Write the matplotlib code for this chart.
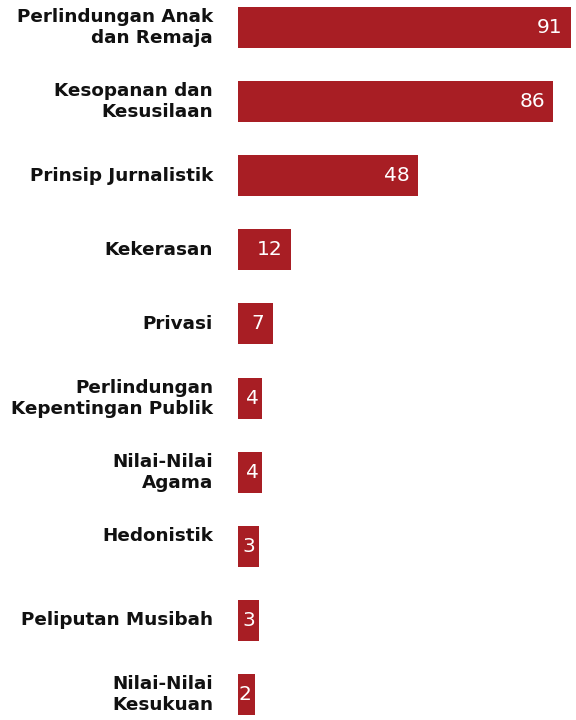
import numpy as np
import matplotlib
matplotlib.use("Agg")
import matplotlib.pyplot as plt

categories = [
    "Perlindungan Anak\ndan Remaja",
    "Kesopanan dan\nKesusilaan",
    "Prinsip Jurnalistik",
    "Kekerasan",
    "Privasi",
    "Perlindungan\nKepentingan Publik",
    "Nilai-Nilai\nAgama",
    "Hedonistik\n",
    "Peliputan Musibah",
    "Nilai-Nilai\nKesukuan",
]
values = [91, 86, 48, 12, 7, 4, 4, 3, 3, 2]

bar_color = "#A81E24"
base = 2.8  # small stub so tiny bars still hold their number

fig = plt.figure(figsize=(5.76, 7.2), dpi=100)
ax = fig.add_axes([238 / 576, 0, 338 / 576, 1])

y = np.arange(len(values))
ax.barh(y, np.array(values) + base, left=-base, height=0.553, color=bar_color)

ax.set_xlim(-base, 92.4)
ax.set_ylim(9.344, -0.371)
ax.axis("off")

for yi, v, lab in zip(y, values, categories):
    pad = -6 if v >= 7 else -2.5
    ax.annotate(str(v), xy=(v, yi), xytext=(pad, 0), textcoords="offset points",
                ha="right", va="center", color="white", fontsize=14.5,
                family="DejaVu Sans")
    ax.annotate(lab, xy=(-base, yi), xytext=(-18, 0), textcoords="offset points",
                ha="right", va="center", color="#111111", fontsize=13.2,
                family="DejaVu Sans", fontweight="bold", linespacing=1.22,
                annotation_clip=False)

fig.savefig("out.png", dpi=100)
